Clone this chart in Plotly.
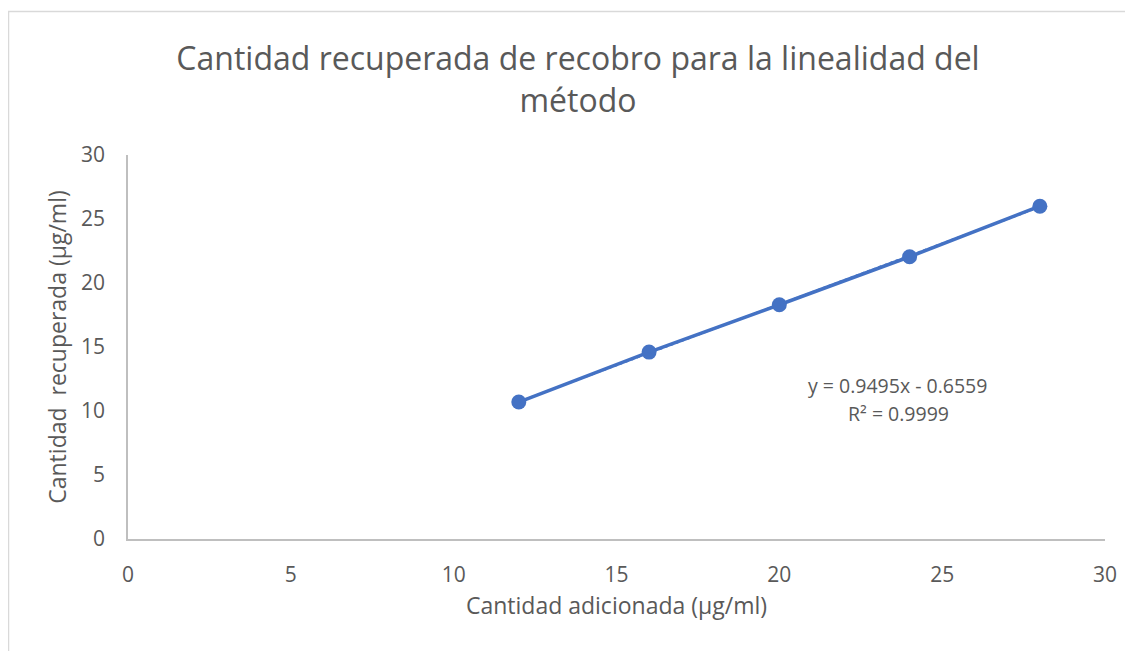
import numpy as np
import plotly.graph_objects as go

# Data
cantidad_adicionada = [12, 16, 20, 24, 28]
cantidad_recuperada = [10.7, 14.6, 18.3, 22.05, 26.0]
equation_line = "y = 0.9495x - 0.6559"
r2_line = "R² = 0.9999"
x_ticks = [0, 5, 10, 15, 20, 25, 30]
y_ticks = [0, 5, 10, 15, 20, 25, 30]

W, H = 1133, 651
# page offset of the figure inside the screenshot
OX, OY = 7, 8
PL, PR, PT, PB = 127, 1104, 155, 539   # plot area in screenshot pixels
L = PL - OX
T = PT - OY
pw = PR - PL
ph = PB - PT
R = W - L - pw
B = H - T - ph

BLUE = "#4472C4"
GREY_TXT = "#595959"
FONT = "Open Sans"

# linear trendline fitted from the data
slope, intercept = np.polyfit(cantidad_adicionada, cantidad_recuperada, 1)
trend_x = [min(cantidad_adicionada), max(cantidad_adicionada)]
trend_y = [slope * v + intercept for v in trend_x]

fig = go.Figure()
fig.add_trace(go.Scatter(
    x=cantidad_adicionada, y=cantidad_recuperada, mode="lines+markers",
    line=dict(color=BLUE, width=3.5),
    marker=dict(color=BLUE, size=15),
    showlegend=False, hoverinfo="x+y"))
fig.add_trace(go.Scatter(
    x=trend_x, y=trend_y, mode="lines",
    line=dict(color=BLUE, width=2, dash="dot"),
    showlegend=False, hoverinfo="skip"))


def px_x(p):
    return (p - PL) / pw


def px_y(p):
    return (PB - p) / ph


fig.add_annotation(
    text=equation_line, xref="paper", yref="paper",
    x=px_x(896), y=px_y(385), xanchor="center", yanchor="middle",
    showarrow=False, font=dict(family=FONT, size=19.5, color=GREY_TXT))
fig.add_annotation(
    text=r2_line, xref="paper", yref="paper",
    x=px_x(897), y=px_y(413), xanchor="center", yanchor="middle",
    showarrow=False, font=dict(family=FONT, size=19.5, color=GREY_TXT))

fig.update_layout(
    width=W, height=H,
    margin=dict(l=L, r=R, t=T, b=B, autoexpand=False),
    paper_bgcolor="white", plot_bgcolor="white",
    font=dict(family=FONT, color=GREY_TXT),
    title=dict(
        text="Cantidad recuperada de recobro para la linealidad del<br>método",
        xref="paper", yref="container",
        x=px_x(577), xanchor="center",
        y=1 - (70 - OY) / H, yanchor="middle",
        font=dict(family=FONT, size=32, color=GREY_TXT)),
    xaxis=dict(
        range=[0, 30], tickvals=x_ticks, showgrid=False, zeroline=False,
        showline=True, linecolor="#BFBFBF", linewidth=1.5, ticks="",
        ticklabelstandoff=16,
        tickfont=dict(family=FONT, size=21, color=GREY_TXT),
        title=dict(text="Cantidad adicionada (µg/ml)", standoff=11,
                   font=dict(family=FONT, size=23, color=GREY_TXT))),
    yaxis=dict(
        range=[0, 30], tickvals=y_ticks, showgrid=False, zeroline=False,
        showline=True, linecolor="#BFBFBF", linewidth=1.5, ticks="",
        ticklabelstandoff=17,
        tickfont=dict(family=FONT, size=21, color=GREY_TXT),
        title=dict(text="Cantidad\u00a0 recuperada (µg/ml)", standoff=8,
                   font=dict(family=FONT, size=23, color=GREY_TXT))),
    shapes=[dict(type="rect", xref="paper", yref="paper",
                 x0=px_x(7.5), x1=px_x(1200), y0=px_y(700), y1=px_y(11.5),
                 line=dict(color="#D9D9D9", width=1.5), layer="below")],
)

fig.write_html("out.html")
